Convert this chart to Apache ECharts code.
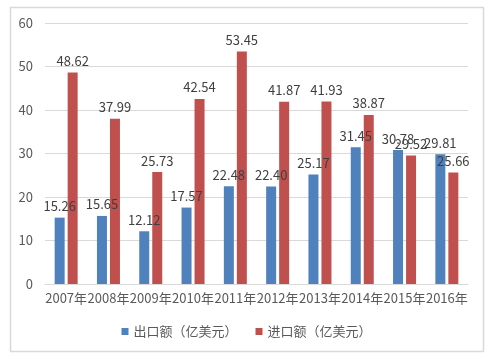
<!DOCTYPE html>
<html><head><meta charset="utf-8">
<script src="https://cdn.jsdelivr.net/npm/echarts@6/dist/echarts.min.js"></script>
<style>html,body{margin:0;padding:0;background:#fff}#c{width:493px;height:359px}</style>
</head><body><div id="c"></div>
<script>
var categories = ['2007年','2008年','2009年','2010年','2011年','2012年','2013年','2014年','2015年','2016年'];
var exportValues = [15.26,15.65,12.12,17.57,22.48,22.40,25.17,31.45,30.78,29.81];
var importValues = [48.62,37.99,25.73,42.54,53.45,41.87,41.93,38.87,29.52,25.66];
var seriesNames = ['出口额（亿美元）','进口额（亿美元）'];
var yTicks = {min:0, max:60, interval:10};
var font = '"Noto Sans CJK SC", "Noto Sans", sans-serif';
var chart = echarts.init(document.getElementById('c'));
chart.setOption({
  animation:false,
  textStyle:{fontFamily:font},
  graphic:[{type:'rect',shape:{x:10.5,y:7.5,width:473,height:344},style:{fill:'none',stroke:'#d9d9d9',lineWidth:1.5}}],
  grid:{left:45,right:25,top:23,bottom:75},
  legend:{bottom:16,left:'center',itemWidth:7,itemHeight:7,itemGap:18,icon:'rect',
    textStyle:{color:'#595959',fontSize:13,fontFamily:font},data:seriesNames},
  xAxis:{type:'category',data:categories,
    axisLine:{lineStyle:{color:'#d9d9d9'}},axisTick:{show:false},
    axisLabel:{color:'#595959',fontSize:13,interval:0,margin:8,fontFamily:font}},
  yAxis:{type:'value',min:yTicks.min,max:yTicks.max,interval:yTicks.interval,
    axisLine:{show:false},axisTick:{show:false},
    splitLine:{lineStyle:{color:'#d9d9d9'}},
    axisLabel:{color:'#595959',fontSize:13,margin:12,fontFamily:font}},
  series:[
    {name:seriesNames[0],type:'bar',data:exportValues,barWidth:10,barGap:'30%',
     itemStyle:{color:'#4F81BD'},
     label:{show:true,position:'top',distance:5,color:'#404040',fontSize:13,fontFamily:font,formatter:function(p){return p.value.toFixed(2);}}},
    {name:seriesNames[1],type:'bar',data:importValues,barWidth:10,
     itemStyle:{color:'#C0504D'},
     label:{show:true,position:'top',distance:5,color:'#404040',fontSize:13,fontFamily:font,formatter:function(p){return p.value.toFixed(2);}}}
  ]
});
</script></body></html>
